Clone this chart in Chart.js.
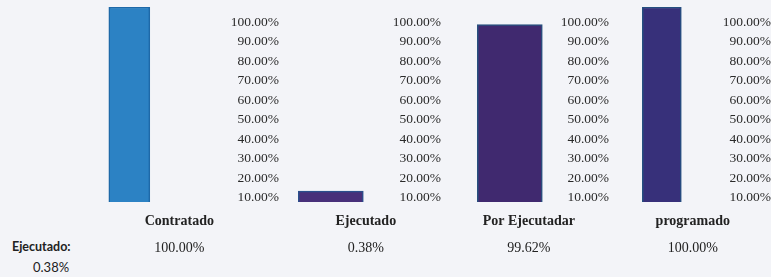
<!DOCTYPE html>
<html>
<head>
<meta charset="utf-8">
<script src="https://cdn.jsdelivr.net/npm/chart.js@4/dist/chart.umd.min.js"></script>
<style>
  html, body { margin: 0; padding: 0; background: #f3f4f8; }
  #wrap { position: relative; width: 771px; height: 277px; overflow: hidden; }
  .panel { position: absolute; top: -3px; }
  #summary { position: absolute; left: 12px; top: 239px; color: #222; font-family: Lato, sans-serif; font-size: 12px; }
  #summary .lbl { font-weight: bold; font-size: 12.5px; }
  #summary .val { margin-left: 21px; margin-top: 5px; font-size: 13px; }
</style>
</head>
<body>
<div id="wrap">
  <div id="summary"><div class="lbl"></div><div class="val"></div></div>
</div>
<script>
// Avance de obra
const categories = ['Contratado', 'Ejecutado', 'Por Ejecutadar', 'programado'];
const percentLabels = ['100.00%', '0.38%', '99.62%', '100.00%'];
const barLevels = [100, 5.6, 91, 100]; // bar heights as drawn
const tickValues = [10, 20, 30, 40, 50, 60, 70, 80, 90, 100];
const summaryLabel = 'Ejecutado:';
const summaryValue = '0.38%';

// layout of each small chart
const panels = [
  { left: 34, width: 245, bar: 41, fill: '#2c82c4', border: '#1e69a8', shift: 50 },
  { left: 275, width: 166, bar: 65, fill: '#48307a', border: '#2b4f8c', shift: 35 },
  { left: 465, width: 144, bar: 65, fill: '#40296f', border: '#27507f', shift: 19 },
  { left: 607, width: 164, bar: 39, fill: '#37307a', border: '#254f80', shift: 31 }
];

const serif = "'Liberation Serif', serif";
const topShift = 3;

const labelPlugin = {
  id: 'catLabels',
  afterDraw(chart, args, opts) {
    const ctx = chart.ctx;
    const x = chart.scales.x.getPixelForValue(0) + opts.shift;
    ctx.save();
    ctx.fillStyle = '#222';
    ctx.textAlign = 'center';
    ctx.textBaseline = 'middle';
    ctx.font = 'bold 14px ' + serif;
    ctx.fillText(opts.name, x, 221 + topShift);
    ctx.font = '14px ' + serif;
    ctx.fillText(opts.value, x, 248 + topShift);
    ctx.restore();
  }
};

const wrap = document.getElementById('wrap');
document.querySelector('#summary .lbl').textContent = summaryLabel;
document.querySelector('#summary .val').textContent = summaryValue;

panels.forEach((p, i) => {
  const div = document.createElement('div');
  div.className = 'panel';
  div.style.left = p.left + 'px';
  const canvas = document.createElement('canvas');
  canvas.width = p.width;
  canvas.height = 277 + topShift;
  div.appendChild(canvas);
  wrap.appendChild(div);

  new Chart(canvas.getContext('2d'), {
    type: 'bar',
    data: {
      labels: [categories[i]],
      datasets: [{
        data: [barLevels[i]],
        backgroundColor: p.fill,
        borderColor: p.border,
        borderWidth: 1.5,
        barThickness: p.bar
      }]
    },
    options: {
      responsive: false,
      animation: false,
      events: [],
      layout: { padding: { top: 0, bottom: 75, left: 0, right: 0 } },
      plugins: {
        legend: { display: false },
        tooltip: { enabled: false },
        catLabels: { name: categories[i], value: percentLabels[i], shift: p.shift }
      },
      scales: {
        x: { display: false },
        y: {
          position: 'right',
          min: 0,
          max: 100,
          afterBuildTicks: axis => { axis.ticks = tickValues.map(v => ({ value: v })); },
          grid: { display: false, drawTicks: false },
          border: { display: false },
          ticks: {
            crossAlign: 'far',
            padding: 3,
            labelOffset: 15,
            color: '#2a2a2a',
            font: { family: serif, size: 13.5, lineHeight: 1.04 },
            callback: v => v.toFixed(2) + '%'
          }
        }
      }
    },
    plugins: [labelPlugin]
  });
});
</script>
</body>
</html>
